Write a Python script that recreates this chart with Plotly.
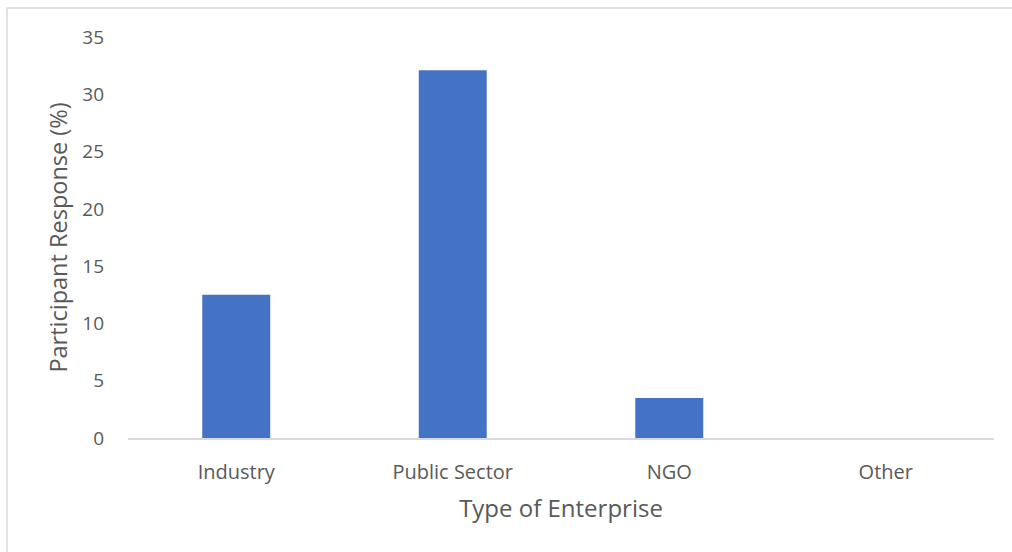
import plotly.graph_objects as go

categories = ["Industry", "Public Sector", "NGO", "Other"]
values = [12.5, 32.1, 3.5, 0]
y_ticks = [0, 5, 10, 15, 20, 25, 30, 35]

W, H = 1012, 552
L, R, T, B = 128, 18, 37, 113.5

fig = go.Figure()
fig.add_trace(go.Bar(x=categories, y=values, marker=dict(color="#4472C4", line=dict(width=0))))

fig.update_layout(
    width=W, height=H,
    margin=dict(l=L, r=R, t=T, b=B, autoexpand=False),
    paper_bgcolor="white", plot_bgcolor="white",
    bargap=0.686,
    showlegend=False,
    font=dict(family="Open Sans", color="#595959", size=18),
    xaxis=dict(
        showline=True, linecolor="#d9d9d9", linewidth=1.5,
        ticks="", tickfont=dict(size=20, color="#595959"),
        ticklabelstandoff=15,
        title=dict(text="Type of Enterprise", font=dict(size=24, color="#595959"), standoff=16),
    ),
    yaxis=dict(
        range=[0, 35], tickvals=y_ticks, showgrid=False, zeroline=False,
        showline=False, ticks="", tickfont=dict(size=19, color="#595959"),
        ticklabelstandoff=23,
        title=dict(text="Participant Response (%)", font=dict(size=23.5, color="#595959"), standoff=8),
    ),
    shapes=[dict(type="rect", xref="paper", yref="paper",
                 x0=(7 - L) / (W - L - R), x1=(W + 5 - L) / (W - L - R),
                 y0=(B - H - 5) / (H - T - B), y1=(H - 8 - B) / (H - T - B),
                 line=dict(color="#d9d9d9", width=1.5), fillcolor="rgba(0,0,0,0)", layer="below")],
)

fig.write_html("out.html")
